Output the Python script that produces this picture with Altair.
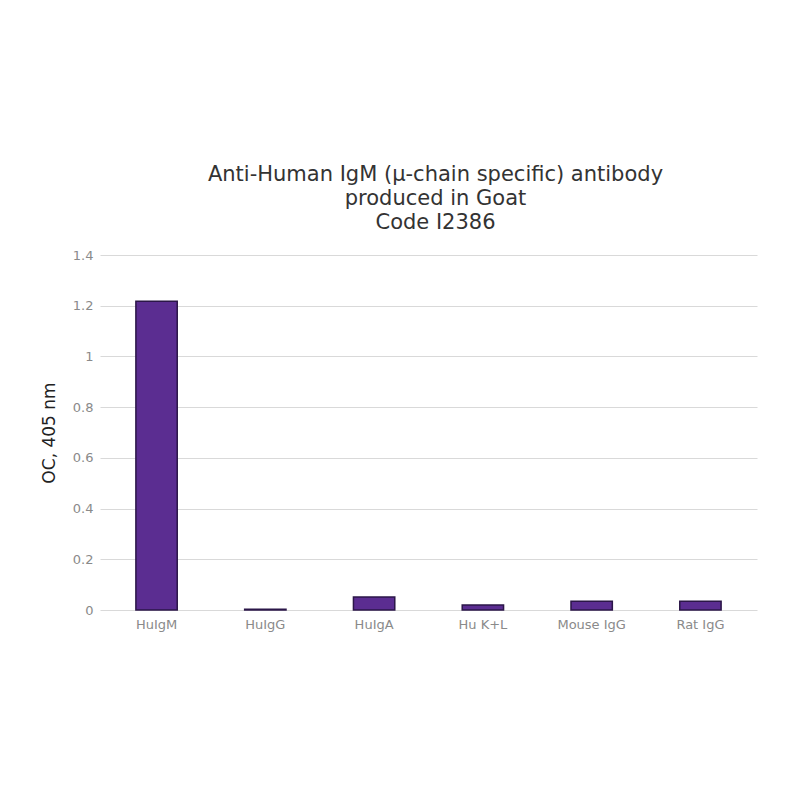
import altair as alt
import pandas as pd

categories = ["HuIgM", "HuIgG", "HuIgA", "Hu K+L", "Mouse IgG", "Rat IgG"]
values = [1.218, 0.003, 0.051, 0.020, 0.035, 0.035]
y_ticks = [0, 0.2, 0.4, 0.6, 0.8, 1, 1.2, 1.4]

df = pd.DataFrame({"category": categories, "value": values})

chart = alt.Chart(df).mark_bar(
    color="#5b2d91", stroke="#2b1648", strokeWidth=1.5
).encode(
    x=alt.X("category:N", sort=categories, title=None,
            scale=alt.Scale(paddingInner=0.62, paddingOuter=0.33),
            axis=alt.Axis(labelAngle=0, labelColor="#8a8a8a", labelFontSize=13,
                          labelFont="DejaVu Sans", ticks=False, domain=False,
                          labelPadding=8)),
    y=alt.Y("value:Q", title="OC, 405 nm",
            scale=alt.Scale(domain=[0, 1.4]),
            axis=alt.Axis(values=y_ticks, format="~g", labelColor="#8a8a8a", labelFontSize=13,
                          labelFont="DejaVu Sans", ticks=False, domain=False,
                          gridColor="#d9d9d9", labelPadding=7,
                          titleFont="DejaVu Sans", titleFontSize=17,
                          titleFontWeight="normal", titleColor="#222222", titlePadding=14)),
).properties(
    width=657, height=355,
    title=alt.TitleParams(
        ["Anti-Human IgM (µ-chain specific) antibody", "produced in Goat", "Code I2386"],
        font="DejaVu Sans", fontSize=21, fontWeight="normal", color="#333333",
        lineHeight=24, anchor="middle", offset=16, dx=7
    ),
    padding={"left": 92, "top": 247, "right": 20, "bottom": 60},
    autosize=alt.AutoSizeParams(type="none"),
).configure_view(stroke=None)

chart.save("out.html", embed_options={"renderer": "svg", "actions": False})
